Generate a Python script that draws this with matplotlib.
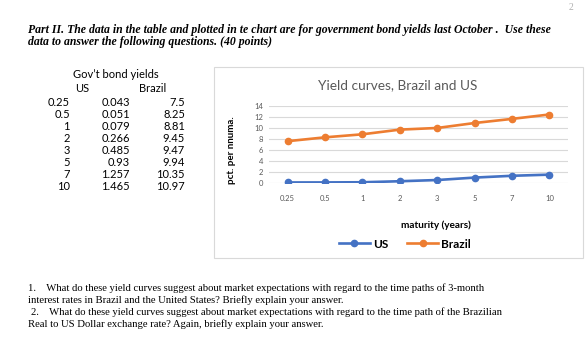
import matplotlib
matplotlib.use("Agg")
import matplotlib.pyplot as plt
from matplotlib.patches import Rectangle
from matplotlib.lines import Line2D

# table values (as printed)
maturities = ["0.25", "0.5", "1", "2", "3", "5", "7", "10"]
us_table = ["0.043", "0.051", "0.079", "0.266", "0.485", "0.93", "1.257", "1.465"]
brazil_table = ["7.5", "8.25", "8.81", "9.45", "9.47", "9.94", "10.35", "10.97"]

# values as plotted in the chart
us_yield = [0.043, 0.051, 0.079, 0.266, 0.485, 0.93, 1.257, 1.465]
brazil_yield = [7.55, 8.25, 8.8, 9.65, 9.95, 10.85, 11.6, 12.4]
y_ticks = [0, 2, 4, 6, 8, 10, 12, 14]

W, H = 586, 357
fig = plt.figure(figsize=(W / 100, H / 100), dpi=100)
fig.patch.set_facecolor("white")


def px(x, y):
    return x / W, 1 - y / H


serif = "Liberation Serif"
sans = "Lato"

# page header
fig.text(*px(571, 8), "2", fontsize=7, color="#b0b0b0", family=serif, ha="center", va="center")
fig.text(*px(28, 30), "Part II. The data in the table and plotted in te chart are for government bond yields last October .  Use these",
         fontsize=8.45, family=serif, style="italic", weight="bold", va="center")
fig.text(*px(28, 41.5), "data to answer the following questions. (40 points)",
         fontsize=8.45, family=serif, style="italic", weight="bold", va="center")

# table
fs_tab = 8
fig.text(*px(116, 75), "Gov\u2019t bond yields", fontsize=fs_tab, family=sans, ha="center", va="center")
fig.text(*px(82, 89), "US", fontsize=fs_tab, family=sans, ha="center", va="center")
fig.text(*px(153, 89), "Brazil", fontsize=fs_tab, family=sans, ha="center", va="center")
for i, (m, u, b) in enumerate(zip(maturities, us_table, brazil_table)):
    y = 103 + i * 11.9
    fig.text(*px(70, y), m, fontsize=fs_tab, family=sans, ha="right", va="center")
    fig.text(*px(130, y), u, fontsize=fs_tab, family=sans, ha="right", va="center")
    fig.text(*px(185, y), b, fontsize=fs_tab, family=sans, ha="right", va="center")

# chart frame
frame = Rectangle(px(214, 258), 369 / W, 191 / H, transform=fig.transFigure,
                  facecolor="white", edgecolor="#d9d9d9", lw=0.8, zorder=-5)
fig.patches.append(frame)

fig.text(*px(398, 85), "Yield curves, Brazil and US", fontsize=9.8, family=sans,
         color="#595959", ha="center", va="center")

left, right = 269, 568
top, bottom = 105.7, 182.7
ax = fig.add_axes([left / W, 1 - bottom / H, (right - left) / W, (bottom - top) / H])
ax.patch.set_alpha(0)
x = range(len(maturities))
ax.plot(x, us_yield, color="#4472C4", lw=1.9, marker="o", ms=4.5, label="US")
ax.plot(x, brazil_yield, color="#ED7D31", lw=1.9, marker="o", ms=4.5, label="Brazil")
ax.set_xlim(-0.5, len(maturities) - 0.5)
ax.set_ylim(0, 14)
ax.set_yticks(y_ticks)
ax.set_xticks(list(x))
ax.set_xticklabels(maturities)
ax.grid(axis="y", color="#d9d9d9", lw=0.8)
ax.set_axisbelow(True)
for s in ax.spines.values():
    s.set_visible(False)
ax.tick_params(length=0, labelsize=5.5, labelcolor="#595959", pad=4)
ax.tick_params(axis="x", pad=9)
for t in ax.get_xticklabels() + ax.get_yticklabels():
    t.set_family(sans)

fig.text(*px(231, 150), "pct. per nnuma.", fontsize=7, family=sans, weight="bold",
         rotation=90, ha="center", va="center")
fig.text(*px(436, 225), "maturity (years)", fontsize=7.2, family=sans, weight="bold",
         ha="center", va="center")

handles = [Line2D([], [], color="#4472C4", lw=1.9, marker="o", ms=4.5),
           Line2D([], [], color="#ED7D31", lw=1.9, marker="o", ms=4.5)]
fig.legend(handles, ["US", "Brazil"], loc="center", bbox_to_anchor=px(405, 244),
           ncol=2, frameon=False, prop={"family": sans, "size": 8.5, "weight": "bold"},
           handlelength=2.6, columnspacing=1.6, handletextpad=0.3)

# questions
q = [(28, 288, "1.    What do these yield curves suggest about market expectations with regard to the time paths of 3-month"),
     (28, 300, "interest rates in Brazil and the United States? Briefly explain your answer."),
     (31, 312, "2.    What do these yield curves suggest about market expectations with regard to the time path of the Brazilian"),
     (28, 324, "Real to US Dollar exchange rate? Again, briefly explain your answer.")]
for qx, qy, s in q:
    fig.text(*px(qx, qy), s, fontsize=7.65, family=serif, va="center")

fig.savefig("out.png", dpi=100)
